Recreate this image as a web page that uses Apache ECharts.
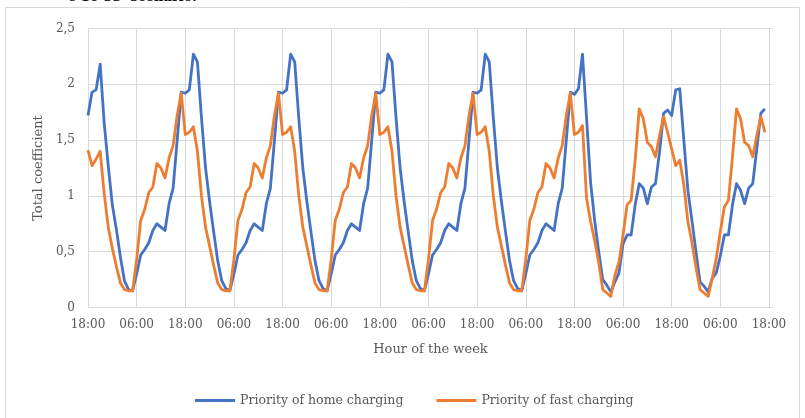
<!DOCTYPE html>
<html>
<head>
<meta charset="utf-8">
<script src="https://cdn.jsdelivr.net/npm/echarts@6.0.0/dist/echarts.min.js"></script>
<style>
  html, body { margin: 0; padding: 0; background: #ffffff; }
  #chart { width: 805px; height: 418px; }
</style>
</head>
<body>
<div id="chart"></div>
<script>
// Hourly slots across the week (index 0 = 18:00 on the first evening)
const slotCount = 170;
const tickLabels = ['18:00', '06:00'];
const yTickLabels = { 0: '0', 0.5: '0,5', 1: '1', 1.5: '1,5', 2: '2', 2.5: '2,5' };

const seriesNames = ['Priority of home charging', 'Priority of fast charging'];

// Priority of home charging, one value per hour
const homeCharging = [
  1.72, 1.93, 1.95, 2.18, 1.65, 1.27, 0.92, 0.70, 0.45, 0.24, 0.16, 0.15,
  0.30, 0.47, 0.52, 0.58, 0.69, 0.75, 0.72, 0.69, 0.93, 1.07, 1.50, 1.93,
  1.92, 1.95, 2.27, 2.20, 1.70, 1.25, 0.95, 0.68, 0.42, 0.24, 0.17, 0.15,
  0.30, 0.47, 0.52, 0.58, 0.69, 0.75, 0.72, 0.69, 0.93, 1.07, 1.50, 1.93,
  1.92, 1.95, 2.27, 2.20, 1.70, 1.25, 0.95, 0.68, 0.42, 0.24, 0.17, 0.15,
  0.30, 0.47, 0.52, 0.58, 0.69, 0.75, 0.72, 0.69, 0.93, 1.07, 1.50, 1.93,
  1.92, 1.95, 2.27, 2.20, 1.70, 1.25, 0.95, 0.68, 0.42, 0.24, 0.17, 0.15,
  0.30, 0.47, 0.52, 0.58, 0.69, 0.75, 0.72, 0.69, 0.93, 1.07, 1.50, 1.93,
  1.92, 1.95, 2.27, 2.20, 1.70, 1.25, 0.95, 0.68, 0.42, 0.24, 0.17, 0.15,
  0.30, 0.47, 0.52, 0.58, 0.69, 0.75, 0.72, 0.69, 0.93, 1.07, 1.50, 1.93,
  1.91, 1.96, 2.27, 1.70, 1.12, 0.78, 0.50, 0.25, 0.20, 0.14, 0.23, 0.31,
  0.57, 0.65, 0.65, 0.92, 1.11, 1.07, 0.93, 1.08, 1.11, 1.39, 1.74, 1.77,
  1.72, 1.95, 1.96, 1.50, 1.05, 0.78, 0.50, 0.23, 0.19, 0.14, 0.26, 0.31,
  0.46, 0.65, 0.65, 0.92, 1.11, 1.05, 0.93, 1.07, 1.11, 1.42, 1.74, 1.78
];

// Priority of fast charging, one value per hour
const fastCharging = [
  1.41, 1.27, 1.33, 1.40, 1.02, 0.72, 0.53, 0.37, 0.22, 0.16, 0.15, 0.15,
  0.43, 0.78, 0.88, 1.03, 1.08, 1.29, 1.25, 1.16, 1.34, 1.45, 1.72, 1.92,
  1.55, 1.57, 1.62, 1.40, 1.00, 0.72, 0.55, 0.38, 0.22, 0.16, 0.15, 0.15,
  0.43, 0.78, 0.88, 1.03, 1.08, 1.29, 1.25, 1.16, 1.34, 1.45, 1.72, 1.92,
  1.55, 1.57, 1.62, 1.40, 1.00, 0.72, 0.55, 0.38, 0.22, 0.16, 0.15, 0.15,
  0.43, 0.78, 0.88, 1.03, 1.08, 1.29, 1.25, 1.16, 1.34, 1.45, 1.72, 1.92,
  1.55, 1.57, 1.62, 1.40, 1.00, 0.72, 0.55, 0.38, 0.22, 0.16, 0.15, 0.15,
  0.43, 0.78, 0.88, 1.03, 1.08, 1.29, 1.25, 1.16, 1.34, 1.45, 1.72, 1.92,
  1.55, 1.57, 1.62, 1.40, 1.00, 0.72, 0.55, 0.38, 0.22, 0.16, 0.15, 0.15,
  0.43, 0.78, 0.88, 1.03, 1.08, 1.29, 1.25, 1.16, 1.34, 1.45, 1.72, 1.92,
  1.55, 1.57, 1.63, 0.98, 0.77, 0.60, 0.40, 0.16, 0.13, 0.10, 0.29, 0.41,
  0.65, 0.92, 0.96, 1.32, 1.78, 1.69, 1.48, 1.44, 1.35, 1.54, 1.71, 1.57,
  1.42, 1.27, 1.32, 1.10, 0.77, 0.58, 0.36, 0.16, 0.13, 0.10, 0.26, 0.44,
  0.68, 0.90, 0.96, 1.35, 1.78, 1.69, 1.48, 1.45, 1.35, 1.54, 1.71, 1.57
];

const colors = ['#4472C4', '#ED7D31'];
const textFont = '"DejaVu Serif", "Liberation Serif", serif';
const gridColor = '#D9D9D9';
const textColor = '#595959';

// Category slots: a label every 12 hours, alternating 18:00 / 06:00
const slots = [];
for (let i = 0; i < slotCount; i++) {
  slots.push(i % 12 === 0 ? tickLabels[(i / 12) % 2] : '');
}
const everyTwelve = (index) => index % 12 === 0 && index <= 168;

const chart = echarts.init(document.getElementById('chart'), null, { renderer: 'canvas' });

chart.setOption({
  animation: false,
  backgroundColor: '#ffffff',
  graphic: [
    {
      type: 'rect',
      silent: true,
      shape: { x: 5.5, y: 7.5, width: 794, height: 440 },
      style: { fill: 'none', stroke: gridColor, lineWidth: 1 }
    },
    {
      type: 'text',
      silent: true,
      left: 68,
      top: -9,
      style: { text: 'e 10 33  scenario.', fill: '#000000', font: 'bold 13px "DejaVu Serif", serif' }
    }
  ],
  grid: { left: 88, right: 32, top: 28.5, bottom: 110.5, containLabel: false },
  legend: {
    left: 195,
    top: 394,
    padding: 0,
    icon: 'rect',
    itemWidth: 40,
    itemHeight: 3,
    itemGap: 33,
    textStyle: { fontFamily: textFont, fontSize: 12.5, color: textColor },
    data: seriesNames
  },
  xAxis: {
    type: 'category',
    data: slots,
    boundaryGap: false,
    name: 'Hour of the week',
    nameLocation: 'middle',
    nameGap: 36,
    nameTextStyle: { fontFamily: textFont, fontSize: 13, color: textColor },
    axisLine: { show: true, lineStyle: { color: gridColor, width: 1 } },
    axisTick: { show: false },
    axisLabel: { interval: everyTwelve, margin: 11, fontFamily: textFont, fontSize: 12, color: textColor },
    splitLine: { show: true, interval: everyTwelve, lineStyle: { color: gridColor, width: 1 } }
  },
  yAxis: {
    type: 'value',
    min: 0,
    max: 2.5,
    interval: 0.5,
    name: 'Total coefficient',
    nameLocation: 'middle',
    nameGap: 41,
    nameRotate: 90,
    nameTextStyle: { fontFamily: textFont, fontSize: 13, color: textColor },
    axisLine: { show: true, lineStyle: { color: gridColor, width: 1 } },
    axisTick: { show: false },
    axisLabel: {
      margin: 13,
      fontFamily: textFont,
      fontSize: 12,
      color: textColor,
      formatter: (v) => yTickLabels[v] !== undefined ? yTickLabels[v] : String(v).replace('.', ',')
    },
    splitLine: { show: true, lineStyle: { color: gridColor, width: 1 } }
  },
  series: [
    {
      name: seriesNames[0],
      type: 'line',
      data: homeCharging,
      showSymbol: false,
      symbol: 'none',
      color: colors[0],
      lineStyle: { width: 2.8, color: colors[0], join: 'round' },
      z: 2
    },
    {
      name: seriesNames[1],
      type: 'line',
      data: fastCharging,
      showSymbol: false,
      symbol: 'none',
      color: colors[1],
      lineStyle: { width: 2.8, color: colors[1], join: 'round' },
      z: 3
    }
  ]
});
</script>
</body>
</html>
